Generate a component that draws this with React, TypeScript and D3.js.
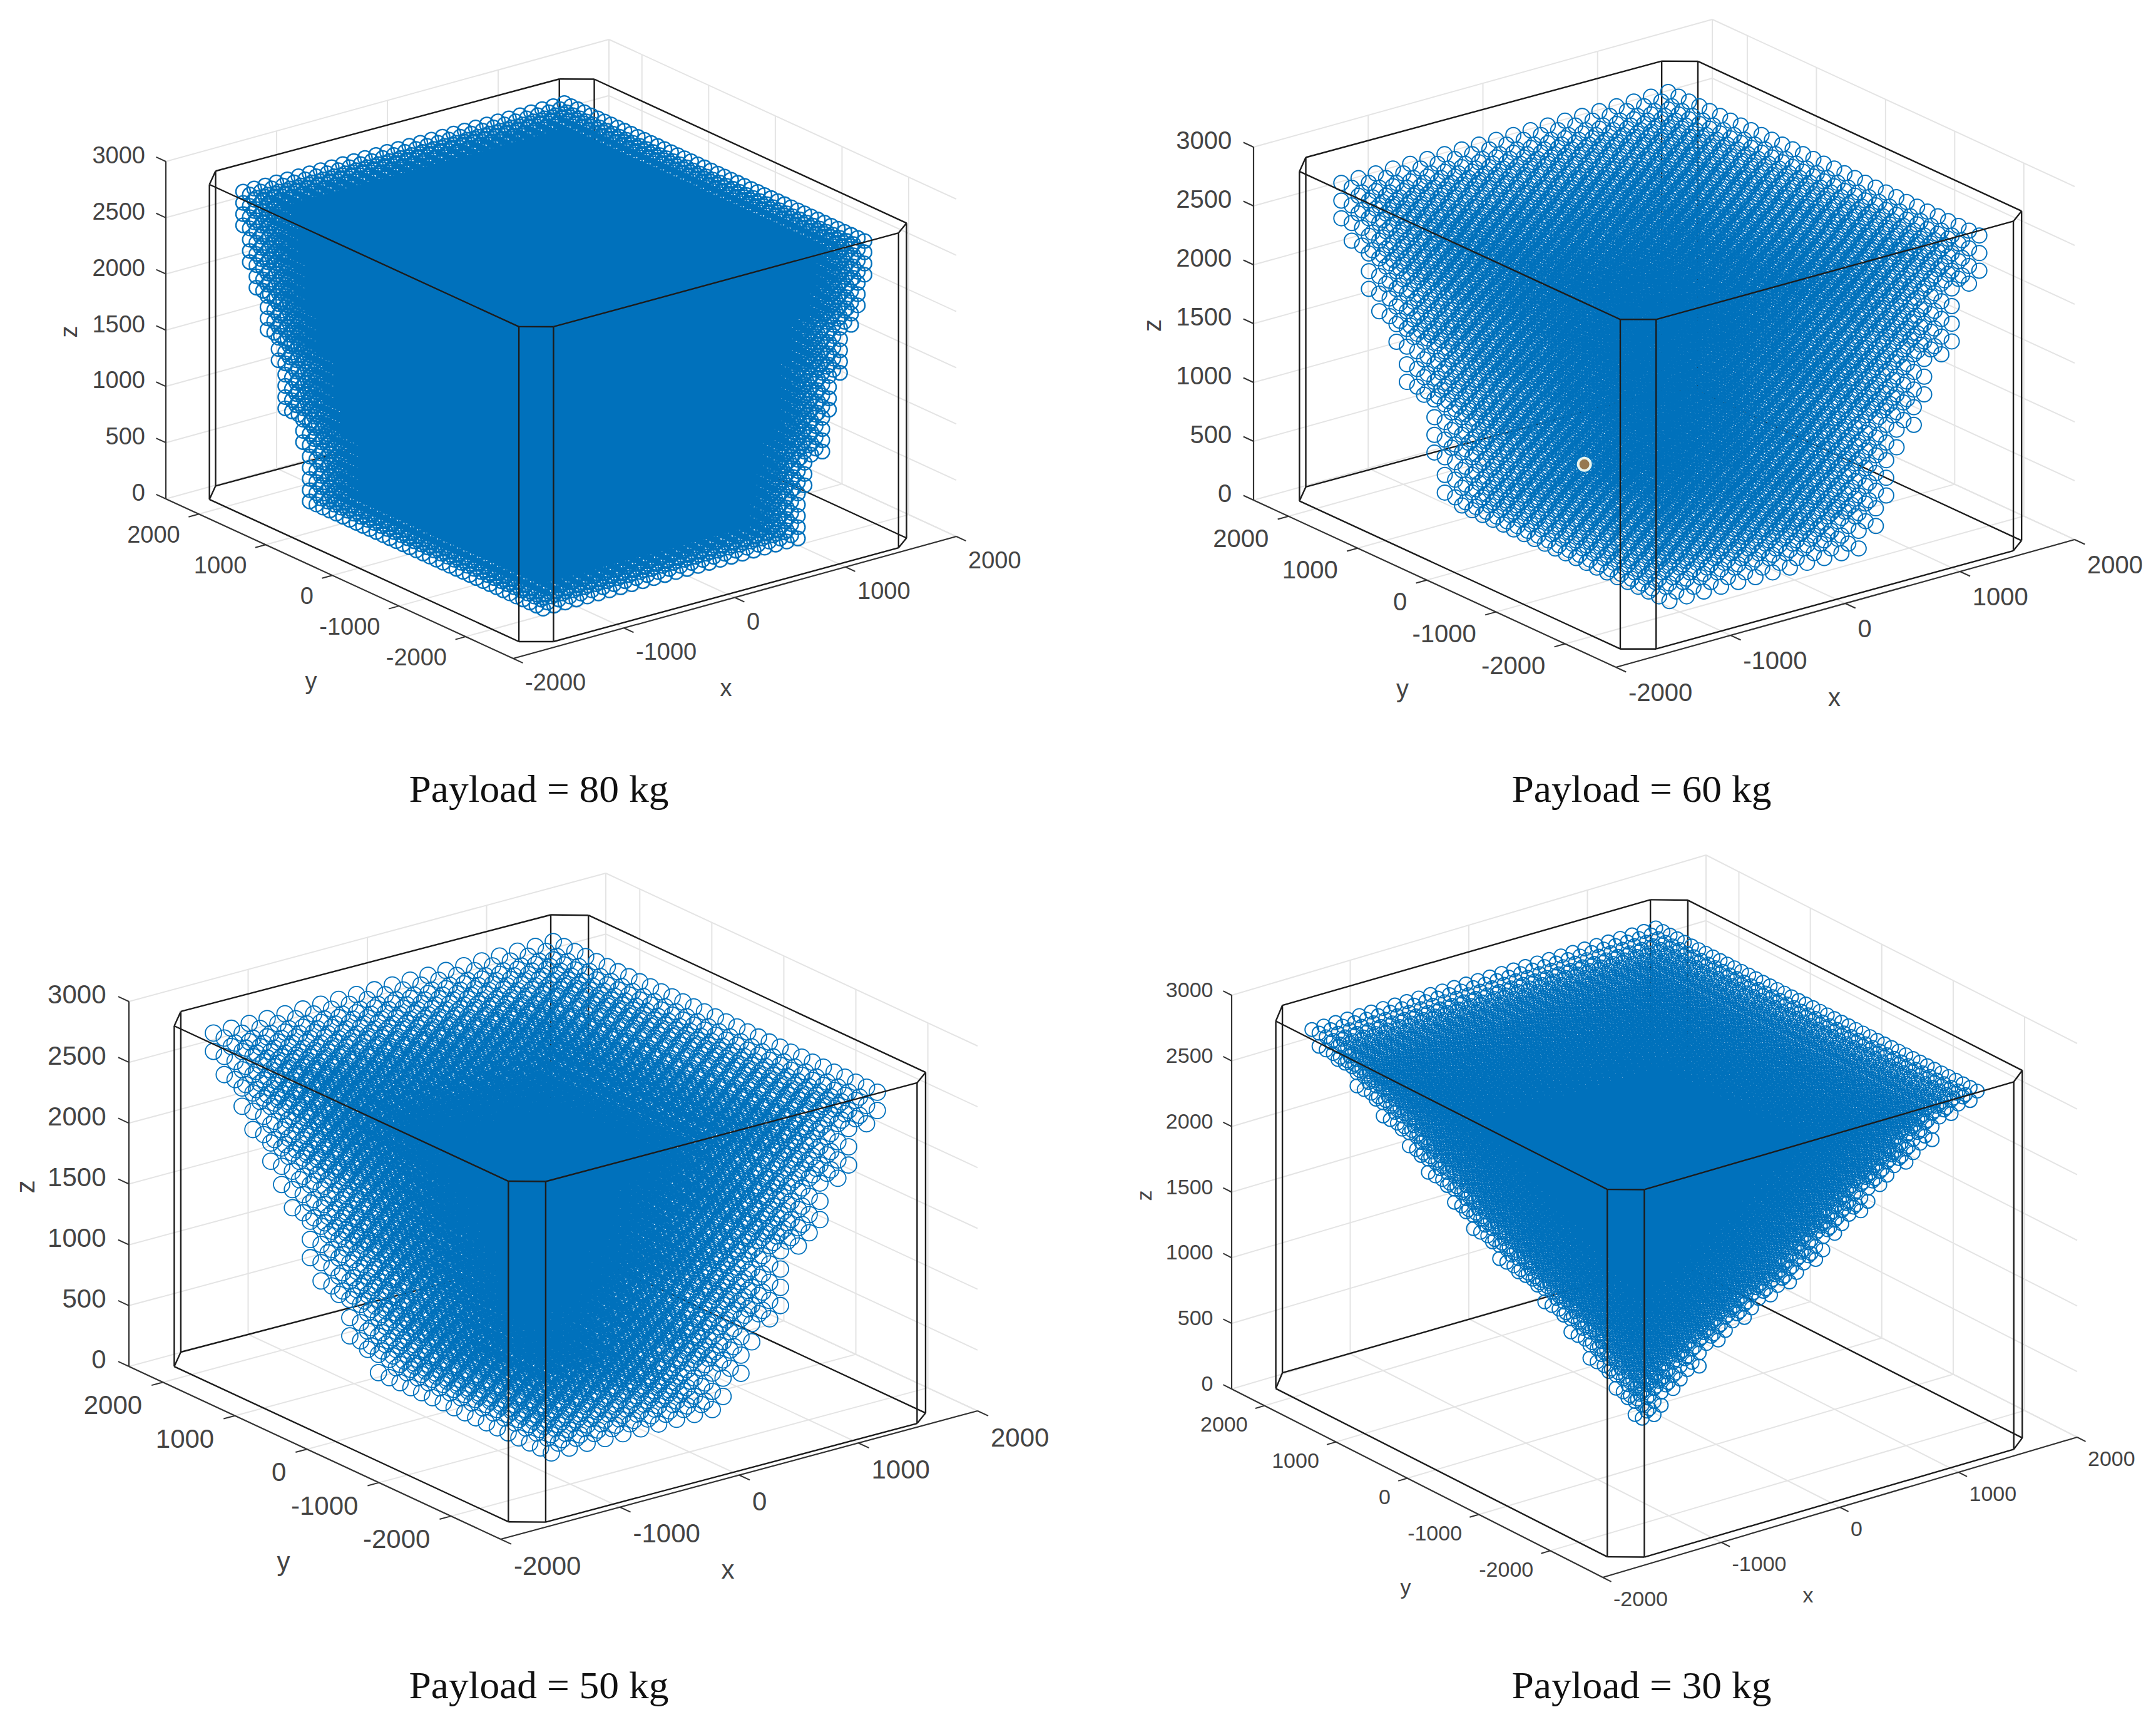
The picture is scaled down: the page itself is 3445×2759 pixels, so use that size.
import React from "react";
import * as d3 from "d3";

const width = 3445;
const height = 2759;

const xTicks = [-2000, -1000, 0, 1000, 2000];
const yTicks = [-2000, -1000, 0, 1000, 2000];
const zTicks = [0, 500, 1000, 1500, 2000, 2500, 3000];

// z levels, top to bottom
const zFine = [2650, 2550, 2450, 2350, 2250, 2150, 2050, 1950, 1850, 1750, 1650, 1550, 1450, 1350, 1250, 1150, 1050, 950, 850, 750, 650, 550, 450, 350, 250, 150, 50, -50];
const zCoarse = [2650, 2500, 2350, 2200, 2050, 1900, 1750, 1600, 1450, 1300, 1150, 1000, 850, 700, 550, 400, 250, 100, -50];
const zCoarse60 = [2625, 2475, 2325, 2175, 2025, 1875, 1725, 1575, 1425, 1275, 1125, 975, 825, 675, 525, 375, 225, 75, -75];

// half width of the reachable block at each z level
const xHalf80 = [1450, 1450, 1450, 1450, 1450, 1450, 1450, 1450, 1450, 1350, 1350, 1350, 1350, 1250, 1250, 1250, 1250, 1250, 1250, 1250, 1150, 1150, 1150, 1150, 1150, 1150, 1150, 1150];
const yHalf80 = [2250, 2250, 2250, 2250, 2150, 2150, 2150, 2050, 2050, 2050, 2050, 2050, 2050, 2050, 2050, 2050, 1950, 1950, 1950, 1950, 1850, 1850, 1850, 1750, 1750, 1750, 1750, 1750];
const xHalf60 = [1425, 1425, 1425, 1425, 1275, 1275, 1275, 1275, 1125, 1125, 1125, 1125, 975, 975, 975, 975, 975, 975, 825];
const yHalf60 = [2250, 2250, 2250, 2100, 2100, 2100, 2100, 1950, 1950, 1950, 1800, 1800, 1800, 1650, 1650, 1650, 1500, 1500, 1500];
const xHalf50 = [1425, 1425, 1425, 1275, 1275, 1275, 1125, 1125, 1125, 1125, 975, 975, 975, 975, 825, 825, 825, 675, 675];
const yHalf50 = [2250, 2250, 2100, 2100, 2100, 1950, 1950, 1950, 1800, 1650, 1650, 1650, 1650, 1500, 1500, 1350, 1350, 1350, 1200];
const xHalf30 = [1450, 1450, 1350, 1250, 1250, 1150, 1150, 1050, 1050, 950, 950, 850, 850, 750, 750, 650, 650, 550, 450, 450, 350, 350, 250, 250, 150, 150, 50, 50];
const yHalf30 = [2250, 2150, 2050, 1950, 1950, 1850, 1750, 1650, 1550, 1550, 1450, 1350, 1250, 1250, 1150, 1050, 950, 850, 750, 650, 550, 450, 350, 350, 250, 150, 150, 50];

// chamfered black box, going round the footprint
const boxX = [-1760, -1560, 1510, 1705, 1700, 1535, -1565, -1760];
const boxY = [2240, 2480, 2425, 2225, -2465, -2620, -2595, -2400];
const boxTop = 2800;

const marked60 = { x: 221, y: 1405, z: 0 };

type Pt = [number, number];

const panels = [
  {
    title: "Payload = 80 kg", zs: zFine, xHalf: xHalf80, yHalf: yHalf80, step: 100, yShift: 0, r: 11.5, sw: 2.3,
    A: [265, 797] as Pt, C: [820, 1052] as Pt, D: [1528, 857] as Pt, zTopPx: 258,
    yDomain: [-2713, 2495], font: 38, cap: [861, 1281] as Pt,
    zLab: [110, 530] as Pt, yLab: [497, 1088] as Pt, xLab: [1160, 1099] as Pt,
  },
  {
    title: "Payload = 60 kg", zs: zCoarse60, xHalf: xHalf60, yHalf: yHalf60, step: 150, yShift: -60, r: 12, sw: 2,
    A: [2003, 799] as Pt, C: [2582, 1066] as Pt, D: [3315, 862] as Pt, zTopPx: 235,
    yDomain: [-2735, 2506], font: 40, cap: [2623, 1281] as Pt,
    zLab: [1841, 520] as Pt, yLab: [2241, 1100] as Pt, xLab: [2931, 1114] as Pt,
  },
  {
    title: "Payload = 50 kg", zs: zCoarse, xHalf: xHalf50, yHalf: yHalf50, step: 150, yShift: 0, r: 13, sw: 1.8,
    A: [206, 2183] as Pt, C: [800, 2459] as Pt, D: [1562, 2254] as Pt, zTopPx: 1600,
    yDomain: [-2690, 2472], font: 42, cap: [861, 2713] as Pt,
    zLab: [40, 1896] as Pt, yLab: [453, 2494] as Pt, xLab: [1163, 2507] as Pt,
  },
  {
    title: "Payload = 30 kg", zs: zFine, xHalf: xHalf30, yHalf: yHalf30, step: 100, yShift: 0, r: 11, sw: 1.9,
    A: [1968, 2219] as Pt, C: [2561, 2520] as Pt, D: [3319, 2296] as Pt, zTopPx: 1590,
    yDomain: [-2735, 2460], font: 34, cap: [2623, 2713] as Pt,
    zLab: [1828, 1910] as Pt, yLab: [2246, 2535] as Pt, xLab: [2889, 2548] as Pt,
  },
];

const Panel = ({ p, marked }: { p: (typeof panels)[number]; marked?: { x: number; y: number; z: number } }) => {
  const { A, C, D } = p;
  const tx = d3.scaleLinear().domain([-2000, 2000]).range([0, 1]);
  const ty = d3.scaleLinear().domain(p.yDomain).range([0, 1]);
  const tz = d3.scaleLinear().domain([0, 3000]).range([0, p.zTopPx - A[1]]);

  const project = (x: number, y: number, z: number): Pt => [
    C[0] + tx(x) * (D[0] - C[0]) + ty(y) * (A[0] - C[0]),
    C[1] + tx(x) * (D[1] - C[1]) + ty(y) * (A[1] - C[1]) + tz(z),
  ];

  const seg = (a: Pt, b: Pt, key: string, stroke: string, sw: number) => (
    <line key={key} x1={a[0]} y1={a[1]} x2={b[0]} y2={b[1]} stroke={stroke} strokeWidth={sw} />
  );

  const [yMin, yMax] = p.yDomain;
  const grid: React.ReactNode[] = [];
  const gridColor = "#e4e4e4";
  xTicks.forEach((x) => {
    grid.push(seg(project(x, yMin, 0), project(x, yMax, 0), `fx${x}`, gridColor, 2));
    grid.push(seg(project(x, yMax, 0), project(x, yMax, 3000), `wx${x}`, gridColor, 2));
  });
  yTicks.forEach((y) => {
    grid.push(seg(project(-2000, y, 0), project(2000, y, 0), `fy${y}`, gridColor, 2));
    grid.push(seg(project(2000, y, 0), project(2000, y, 3000), `wy${y}`, gridColor, 2));
  });
  zTicks.forEach((z) => {
    grid.push(seg(project(-2000, yMax, z), project(2000, yMax, z), `za${z}`, gridColor, 2));
    grid.push(seg(project(2000, yMin, z), project(2000, yMax, z), `zb${z}`, gridColor, 2));
  });

  // all circles of a panel go in one path, there are tens of thousands of them
  const path = d3.path();
  p.zs.forEach((z, i) => {
    const xs = d3.range(-p.xHalf[i], p.xHalf[i] + 1, p.step);
    const ys = d3.range(-p.yHalf[i], p.yHalf[i] + 1, p.step);
    xs.forEach((x) => {
      ys.forEach((y) => {
        const [px, py] = project(x, y + p.yShift, z);
        path.moveTo(px + p.r, py);
        path.arc(px, py, p.r, 0, Math.PI * 2);
      });
    });
  });

  const black = "#1c1c1c";
  const n = boxX.length;
  const top = d3.range(n).map((i) => project(boxX[i], boxY[i], boxTop));
  const bottom = d3.range(n).map((i) => project(boxX[i], boxY[i], 0));
  const backEdges: React.ReactNode[] = [];
  const frontEdges: React.ReactNode[] = [];
  // edges 0..3 run round the far side of the footprint
  d3.range(n).forEach((i) => {
    const j = (i + 1) % n;
    const behind = i < 4;
    (behind ? backEdges : frontEdges).push(seg(bottom[i], bottom[j], `b${i}`, black, 2.4));
    (behind ? backEdges : frontEdges).push(seg(top[i], top[j], `t${i}`, black, 2.4));
    const vertBehind = i === 2 || i === 3;
    (vertBehind ? backEdges : frontEdges).push(seg(bottom[i], top[i], `v${i}`, black, 2.4));
  });

  const k = p.font / 38;
  const axisColor = "#333333";
  const textColor = "#444444";
  const unit = (a: Pt, b: Pt): Pt => {
    const l = Math.hypot(b[0] - a[0], b[1] - a[1]);
    return [(b[0] - a[0]) / l, (b[1] - a[1]) / l];
  };
  const tickLen = 17 * k;
  const yTickDir = unit(D, C);
  const xTickDir = unit(A, C);
  const zTickDir = unit(C, A);
  const textProps = {
    fontFamily: "'Liberation Sans', Arial, sans-serif",
    fontSize: p.font,
    fill: textColor,
    dominantBaseline: "central" as const,
  };

  const axes: React.ReactNode[] = [
    seg(project(-2000, yMax, 0), project(-2000, yMax, 3000), "az", axisColor, 2.2),
    seg(project(-2000, yMin, 0), project(-2000, yMax, 0), "ay", axisColor, 2.2),
    seg(project(-2000, yMin, 0), project(2000, yMin, 0), "ax", axisColor, 2.2),
  ];
  zTicks.forEach((z) => {
    const a = project(-2000, yMax, z);
    axes.push(seg(a, [a[0] + zTickDir[0] * tickLen, a[1] + zTickDir[1] * tickLen], `tz${z}`, axisColor, 2));
    axes.push(
      <text key={`lz${z}`} x={a[0] - 33 * k} y={a[1] - 10 * k} textAnchor="end" {...textProps}>{z}</text>
    );
  });
  yTicks.forEach((y) => {
    const a = project(-2000, y, 0);
    axes.push(seg(a, [a[0] + yTickDir[0] * tickLen, a[1] + yTickDir[1] * tickLen], `ty${y}`, axisColor, 2));
    axes.push(
      <text key={`ly${y}`} x={a[0] - 30 * k} y={a[1] + 33 * k} textAnchor="end" {...textProps}>{y}</text>
    );
  });
  xTicks.forEach((x) => {
    const a = project(x, yMin, 0);
    axes.push(seg(a, [a[0] + xTickDir[0] * tickLen, a[1] + xTickDir[1] * tickLen], `tx${x}`, axisColor, 2));
    axes.push(
      <text key={`lx${x}`} x={a[0] + 19 * k} y={a[1] + 38 * k} textAnchor="start" {...textProps}>{x}</text>
    );
  });

  const mark = marked ? project(marked.x, marked.y, marked.z) : null;

  return (
    <g>
      {grid}
      {axes}
      {backEdges}
      <path d={path.toString()} fill="none" stroke="#0071bc" strokeWidth={p.sw} />
      {frontEdges}
      {mark && <circle cx={mark[0]} cy={mark[1]} r={10} fill="#96794f" stroke="#e8f5ee" strokeWidth={4} />}
      <text x={p.xLab[0]} y={p.xLab[1]} textAnchor="middle" {...textProps}>x</text>
      <text x={p.yLab[0]} y={p.yLab[1]} textAnchor="middle" {...textProps}>y</text>
      <text
        transform={`translate(${p.zLab[0]},${p.zLab[1]}) rotate(-90)`}
        textAnchor="middle"
        {...textProps}
      >
        z
      </text>
      <text
        x={p.cap[0]}
        y={p.cap[1]}
        textAnchor="middle"
        fontFamily="'Liberation Serif', 'Times New Roman', serif"
        fontSize={62}
        textLength={415}
        lengthAdjust="spacingAndGlyphs"
        fill="#111111"
      >
        {p.title}
      </text>
    </g>
  );
};

export default function App() {
  return (
    <svg
      width={width}
      height={height}
      viewBox={`0 0 ${width} ${height}`}
      style={{ position: "absolute", left: 0, top: 0, background: "#ffffff" }}
    >
      {panels.map((p, i) => (
        <Panel key={p.title} p={p} marked={i === 1 ? marked60 : undefined} />
      ))}
    </svg>
  );
}
